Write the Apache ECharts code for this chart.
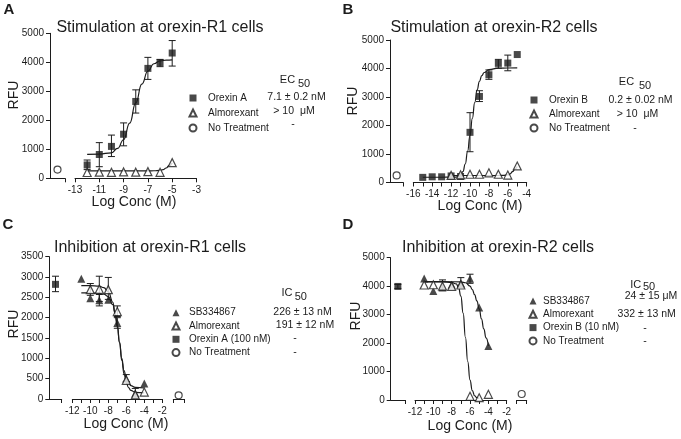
<!DOCTYPE html>
<html><head><meta charset="utf-8">
<script src="https://cdn.jsdelivr.net/npm/echarts@6/dist/echarts.min.js"></script>
<style>html,body{margin:0;padding:0;background:#fff}#c{width:681px;height:439px}</style>
</head><body><div id="c"></div>
<script>
// ---------- Panel A : Stimulation at orexin-R1 cells ----------
const aOrxX  = [-12, -11, -10, -9, -8, -7, -6, -5];
const aOrxY  = [460, 820, 1100, 1520, 2650, 3790, 3990, 4320];
const aOrxLo = [300, 400, 750, 1120, 2250, 3410, 3850, 3870];
const aOrxHi = [630, 1230, 1490, 1910, 3050, 4170, 4100, 4750];
const aAlmX  = [-12, -11, -10, -9, -8, -7, -6, -5];
const aAlmY  = [200, 210, 205, 220, 210, 230, 205, 540];
const aNoTreatY = [300];
const aFitOrxX = [-12, -11, -10, -9.5, -9, -8.5, -8, -7.5, -7, -6.5, -6, -5.5, -5];
const aFitOrxY = [825, 835, 880, 1030, 1330, 1900, 2600, 3250, 3700, 3950, 4050, 4075, 4085];
const aFitAlmX = [-12, -11, -10, -9, -8, -7, -6.5, -6, -5.75, -5.5, -5.25, -5];
const aFitAlmY = [255, 255, 255, 255, 255, 256, 260, 272, 300, 355, 435, 530];
const aXTicks = [-13, -11, -9, -7, -5, -3];
const aYTicks = [0, 1000, 2000, 3000, 4000, 5000];
const aLegend = ['Orexin A', 'Almorexant', 'No Treatment'];
const aEc50 = ['7.1 \u00b1 0.2 nM', '> 10  \u03bcM', '-'];

// ---------- Panel B : Stimulation at orexin-R2 cells ----------
const bOrxX = [-15, -14, -13, -12, -11, -10, -9, -8, -7, -6, -5];
const bOrxY = [180, 200, 200, 230, 210, 1760, 3020, 3780, 4180, 4190, 4490];
const bErrX  = [-10, -9, -8, -7, -6];
const bErrLo = [1080, 2840, 3620, 4010, 3920];
const bErrHi = [2450, 3220, 3950, 4320, 4470];
const bAlmX = [-12, -11, -10, -9, -8, -7, -6, -5];
const bAlmY = [250, 270, 290, 290, 340, 290, 260, 580];
const bNoTreatY = [250];
const bFitOrxX = [-15, -13, -12, -11.5, -11, -10.75, -10.5, -10.25, -10, -9.75, -9.5, -9.25, -9, -8.75, -8.5, -8, -7, -6, -5];
const bFitOrxY = [185, 185, 186, 192, 250, 380, 650, 1100, 1650, 2250, 2800, 3250, 3550, 3750, 3860, 3960, 4010, 4018, 4020];
const bFitAlmX = [-12, -10, -8, -7, -6.5, -6, -5.75, -5.5, -5.25, -5];
const bFitAlmY = [245, 245, 245, 246, 250, 265, 300, 380, 470, 560];
const bXTicks  = [-16, -15, -14, -13, -12, -11, -10, -9, -8, -7, -6, -5, -4];
const bXLabels = [-16, -14, -12, -10, -8, -6, -4];
const bYTicks = [0, 1000, 2000, 3000, 4000, 5000];
const bLegend = ['Orexin B', 'Almorexant', 'No Treatment'];
const bEc50 = ['0.2 \u00b1 0.02 nM', '> 10  \u03bcM', '-'];

// ---------- Panel C : Inhibition at orexin-R1 cells ----------
const cCtrlY = [2820], cCtrlLo = [2640], cCtrlHi = [3020];
const cSbX = [-11, -10, -9, -8, -7, -6, -5, -4];
const cSbY = [2960, 2480, 2430, 2440, 1870, 500, 140, 380];
const cSbErrX  = [-9, -7, -6];
const cSbErrLo = [2290, 1740, 430];
const cSbErrHi = [2570, 2000, 600];
const cAlmX = [-10, -9, -8, -7, -6, -5, -4];
const cAlmY = [2690, 2700, 2690, 2150, 460, 100, 170];
const cAlmErrX  = [-10, -9, -8, -7, -5];
const cAlmErrLo = [2550, 2400, 2450, 2030, 30];
const cAlmErrHi = [2840, 3020, 2990, 2290, 260];
const cNoTreatY = [90];
const cFitX    = [-11, -10, -9, -8.5, -8, -7.5, -7.25, -7, -6.75, -6.5, -6.25, -6, -5.75, -5.5, -5, -4];
const cFitSbY  = [2610, 2608, 2600, 2580, 2520, 2320, 2100, 1800, 1400, 1000, 700, 500, 390, 330, 285, 270];
const cFitAlmY = [2790, 2788, 2775, 2740, 2640, 2380, 2130, 1800, 1380, 950, 620, 400, 280, 210, 165, 150];
const cXTicks  = [-12, -11, -10, -9, -8, -7, -6, -5, -4, -3, -2];
const cXLabels = [-12, -10, -8, -6, -4, -2];
const cYTicks = [0, 500, 1000, 1500, 2000, 2500, 3000, 3500];
const cLegend = ['SB334867', 'Almorexant', 'Orexin A (100 nM)', 'No Treatment'];
const cIc50 = ['226 \u00b1 13 nM', '191 \u00b1 12 nM', '-', '-'];

// ---------- Panel D : Inhibition at orexin-R2 cells ----------
const dCtrlY = [3990], dCtrlLo = [3920], dCtrlHi = [4060];
const dSbX = [-11, -10, -9, -8, -7, -6, -5, -4];
const dSbY = [4270, 3830, 3950, 4050, 4100, 4260, 3250, 1900];
const dSbErrX  = [-9, -7, -6];
const dSbErrLo = [3850, 3950, 4100];
const dSbErrHi = [4220, 4300, 4420];
const dAlmX = [-11, -10, -9, -8, -7, -6, -5, -4];
const dAlmY = [4040, 4050, 4000, 3990, 4040, 130, 80, 200];
const dNoTreatY = [210];
const dFitSbX = [-11, -9, -7, -6.5, -6, -5.75, -5.5, -5.25, -5, -4.75, -4.5, -4.25, -4];
const dFitSbY = [4160, 4160, 4150, 4120, 4000, 3880, 3700, 3480, 3200, 2850, 2500, 2180, 1900];
const dFitAlmX = [-11, -9, -8, -7.5, -7.25, -7, -6.75, -6.5, -6.25, -6, -5.75, -5.5, -5.25, -5];
const dFitAlmY = [4150, 4148, 4130, 4080, 3950, 3650, 3050, 2200, 1350, 700, 330, 150, 80, 50];
const dXTicks  = [-12, -11, -10, -9, -8, -7, -6, -5, -4, -3, -2];
const dXLabels = [-12, -10, -8, -6, -4, -2];
const dYTicks = [0, 1000, 2000, 3000, 4000, 5000];
const dLegend = ['SB334867', 'Almorexant', 'Orexin B (10 nM)', 'No Treatment'];
const dIc50 = ['24 \u00b1 15 \u03bcM', '332 \u00b1 13 nM', '-', '-'];

// control (broken-axis) segments: x position inside segment
const CTRL = 0.5;

// ---------- helpers ----------
const FONT = '"Liberation Sans", Arial, Helvetica, sans-serif';
const INK = '#1c1c1c';
const pts = (xs, ys) => xs.map((x, i) => [x, ys[i]]);
const bars = (xs, lo, hi) => xs.map((x, i) => [x, lo[i], hi[i]]);
const LS = { color: INK, width: 1 };

const grids = [
  { left: 50,    top: 33.3,  width: 15,    height: 145 },   // 0 A left
  { left: 75,    top: 33.3,  width: 121.5, height: 145 },   // 1 A main
  { left: 390,   top: 40,    width: 13.3,  height: 142.5 }, // 2 B left
  { left: 413.3, top: 40,    width: 113.4, height: 142.5 }, // 3 B main
  { left: 49.3,  top: 256.7, width: 12.4,  height: 142.3 }, // 4 C left
  { left: 72.3,  top: 256.7, width: 90,    height: 142.3 }, // 5 C main
  { left: 173.3, top: 256.7, width: 10.7,  height: 142.3 }, // 6 C right
  { left: 390.7, top: 257.7, width: 14.3,  height: 142.3 }, // 7 D left
  { left: 415,   top: 257.7, width: 91.7,  height: 142.3 }, // 8 D main
  { left: 516.7, top: 257.7, width: 10,    height: 142.3 }  // 9 D right
].map(g => Object.assign({ outerBoundsMode: 'none', containLabel: false }, g));

function segX(gi, ticks) {
  return { type: 'value', gridIndex: gi, min: 0, max: 1,
    axisLine: { show: true, onZero: false, lineStyle: LS },
    axisTick: { show: true, customValues: ticks, length: 4, lineStyle: LS },
    axisLabel: { show: false }, splitLine: { show: false } };
}
function mainX(gi, min, max, ticks, labels) {
  return { type: 'value', gridIndex: gi, min, max,
    axisLine: { show: true, onZero: false, lineStyle: LS },
    axisTick: { show: true, customValues: ticks, length: 4, lineStyle: LS },
    axisLabel: { show: true, customValues: labels, fontSize: 10, color: INK, fontFamily: FONT, margin: 7,
      formatter: v => String(v) },
    splitLine: { show: false } };
}
function leftY(gi, ticks) {
  return { type: 'value', gridIndex: gi, min: 0, max: ticks[ticks.length - 1],
    axisLine: { show: true, onZero: false, lineStyle: LS },
    axisTick: { show: true, customValues: ticks, length: 4, lineStyle: LS },
    axisLabel: { show: true, customValues: ticks, fontSize: 10, color: INK, fontFamily: FONT, margin: 6,
      formatter: v => String(v) },
    splitLine: { show: false } };
}
function hidY(gi, ticks) {
  return { type: 'value', gridIndex: gi, min: 0, max: ticks[ticks.length - 1], show: false };
}

const SYM = {
  sq:   { symbol: 'rect', symbolSize: 7, itemStyle: { color: INK } },
  ftri: { symbol: 'triangle', symbolSize: 8, itemStyle: { color: INK } },
  tri:  { symbol: 'triangle', symbolSize: 8, itemStyle: { color: '#fff', borderColor: INK, borderWidth: 1.2 } },
  circ: { symbol: 'circle', symbolSize: 7, itemStyle: { color: '#fff', borderColor: INK, borderWidth: 1.2 } }
};
function sc(name, gi, data, kind) {
  return Object.assign({ type: 'scatter', name, xAxisIndex: gi, yAxisIndex: gi, data, z: 5,
    emphasis: { disabled: true }, clip: false }, SYM[kind]);
}
function fit(gi, data) {
  return { type: 'line', xAxisIndex: gi, yAxisIndex: gi, data, smooth: 0.5, smoothMonotone: 'x',
    showSymbol: false, symbol: 'none', lineStyle: { color: INK, width: 1.2 }, z: 3,
    emphasis: { disabled: true } };
}
function eb(gi, data) {
  return { type: 'custom', xAxisIndex: gi, yAxisIndex: gi, data, z: 2, encode: { x: 0, y: [1, 2] },
    renderItem: (params, api) => {
      const x = api.value(0);
      const a = api.coord([x, api.value(1)]);
      const b = api.coord([x, api.value(2)]);
      const h = 3.5, st = { stroke: INK, lineWidth: 1 };
      return { type: 'group', children: [
        { type: 'line', shape: { x1: a[0], y1: a[1], x2: b[0], y2: b[1] }, style: st },
        { type: 'line', shape: { x1: a[0] - h, y1: a[1], x2: a[0] + h, y2: a[1] }, style: st },
        { type: 'line', shape: { x1: b[0] - h, y1: b[1], x2: b[0] + h, y2: b[1] }, style: st }
      ] };
    } };
}
const ctrl = ys => ys.map(y => [CTRL, y]);

const xAxis = [
  segX(0, [1]), mainX(1, -13, -3, aXTicks, aXTicks),
  segX(2, [1]), mainX(3, -16, -4, bXTicks, bXLabels),
  segX(4, [1]), mainX(5, -12, -2, cXTicks, cXLabels), segX(6, [0, 1]),
  segX(7, [1]), mainX(8, -12, -2, dXTicks, dXLabels), segX(9, [0, 1])
];
const yAxis = [
  leftY(0, aYTicks), hidY(1, aYTicks),
  leftY(2, bYTicks), hidY(3, bYTicks),
  leftY(4, cYTicks), hidY(5, cYTicks), hidY(6, cYTicks),
  leftY(7, dYTicks), hidY(8, dYTicks), hidY(9, dYTicks)
];

const series = [
  // A
  eb(1, bars(aOrxX, aOrxLo, aOrxHi)),
  fit(1, pts(aFitOrxX, aFitOrxY)), fit(1, pts(aFitAlmX, aFitAlmY)),
  sc('Orexin A', 1, pts(aOrxX, aOrxY), 'sq'),
  sc('Almorexant', 1, pts(aAlmX, aAlmY), 'tri'),
  sc('No Treatment', 0, ctrl(aNoTreatY), 'circ'),
  // B
  eb(3, bars(bErrX, bErrLo, bErrHi)),
  fit(3, pts(bFitOrxX, bFitOrxY)), fit(3, pts(bFitAlmX, bFitAlmY)),
  sc('Orexin B', 3, pts(bOrxX, bOrxY), 'sq'),
  sc('Almorexant', 3, pts(bAlmX, bAlmY), 'tri'),
  sc('No Treatment', 2, ctrl(bNoTreatY), 'circ'),
  // C
  eb(4, bars([CTRL], cCtrlLo, cCtrlHi)),
  eb(5, bars(cSbErrX, cSbErrLo, cSbErrHi)), eb(5, bars(cAlmErrX, cAlmErrLo, cAlmErrHi)),
  fit(5, pts(cFitX, cFitSbY)), fit(5, pts(cFitX, cFitAlmY)),
  sc('SB334867', 5, pts(cSbX, cSbY), 'ftri'),
  sc('Almorexant', 5, pts(cAlmX, cAlmY), 'tri'),
  sc('Orexin A (100 nM)', 4, ctrl(cCtrlY), 'sq'),
  sc('No Treatment', 6, ctrl(cNoTreatY), 'circ'),
  // D
  eb(7, bars([CTRL], dCtrlLo, dCtrlHi)),
  eb(8, bars(dSbErrX, dSbErrLo, dSbErrHi)),
  fit(8, pts(dFitSbX, dFitSbY)), fit(8, pts(dFitAlmX, dFitAlmY)),
  sc('SB334867', 8, pts(dSbX, dSbY), 'ftri'),
  sc('Almorexant', 8, pts(dAlmX, dAlmY), 'tri'),
  sc('Orexin B (10 nM)', 7, ctrl(dCtrlY), 'sq'),
  sc('No Treatment', 9, ctrl(dNoTreatY), 'circ')
];

// legend: icon centre x, first row centre y, row pitch, text start x
function lg(names, iconX, rowY, pitch, textX) {
  const w = 7, ih = 10;
  return { orient: 'vertical', left: iconX - w / 2, top: rowY - ih / 2, itemWidth: w, itemHeight: 7,
    itemGap: pitch - ih, padding: 0, data: names, selectedMode: false,
    textStyle: { fontSize: 10, color: INK, fontFamily: FONT, lineHeight: ih,
      padding: [0, 0, 0, textX - (iconX + w / 2 + 5)] } };
}
const legend = [
  lg(aLegend, 192, 98, 15, 207),
  lg(bLegend, 533, 100, 14, 548),
  lg(cLegend, 175, 312.7, 13.3, 188),
  lg(dLegend, 532, 301, 13.3, 542)
];

function T(text, x, y, size, opt) {
  opt = opt || {};
  return { type: 'text', x, y, rotation: opt.rot || 0, silent: true,
    style: { text, fill: INK, fontSize: size, fontFamily: FONT, fontWeight: opt.bold ? 'bold' : 'normal',
      align: opt.align || 'center', verticalAlign: 'middle' } };
}
const R90 = Math.PI / 2;
const graphic = [
  T('A', 9, 10, 15, { bold: true }), T('B', 348, 10, 15, { bold: true }),
  T('C', 8, 225, 15, { bold: true }), T('D', 348, 225, 15, { bold: true }),
  T('Stimulation at orexin-R1 cells', 160, 28, 16), T('Stimulation at orexin-R2 cells', 494, 28, 16),
  T('Inhibition at orexin-R1 cells', 150, 248, 16), T('Inhibition at orexin-R2 cells', 498, 248, 16),
  T('Log Conc (M)', 134, 202, 14), T('Log Conc (M)', 480, 206, 14),
  T('Log Conc (M)', 126, 424, 14), T('Log Conc (M)', 470, 426, 14),
  T('RFU', 13.7, 95, 14, { rot: R90 }), T('RFU', 353.5, 101, 14, { rot: R90 }),
  T('RFU', 13.7, 324, 14, { rot: R90 }), T('RFU', 356, 316, 14, { rot: R90 }),
  T('EC', 287.5, 80, 11), T('50', 304, 83.5, 11),
  T('EC', 626.5, 82, 11), T('50', 645, 86, 11),
  T('IC', 287, 293, 11), T('50', 300.8, 296.5, 11),
  T('IC', 635.8, 284.5, 11), T('50', 649, 287, 11),
  T(aEc50[0], 296.5, 97.5, 10.5), T(aEc50[1], 294, 111, 10.5), T(aEc50[2], 293, 124, 10.5),
  T(bEc50[0], 640.5, 100, 10.5), T(bEc50[1], 637.5, 114, 10.5), T(bEc50[2], 635, 127.7, 10.5),
  T(cIc50[0], 302.5, 311.7, 10.5), T(cIc50[1], 305, 325, 10.5), T(cIc50[2], 295, 338.3, 10.5), T(cIc50[3], 295, 351.7, 10.5),
  T(dIc50[0], 651, 296, 10.5), T(dIc50[1], 646.7, 314.3, 10.5), T(dIc50[2], 645, 327.7, 10.5), T(dIc50[3], 645, 341, 10.5)
];

const chart = echarts.init(document.getElementById('c'), null, { renderer: 'canvas' });
chart.setOption({ animation: false, backgroundColor: '#fff', grid: grids, xAxis, yAxis, series, legend, graphic,
  tooltip: { show: false } });
</script></body></html>
